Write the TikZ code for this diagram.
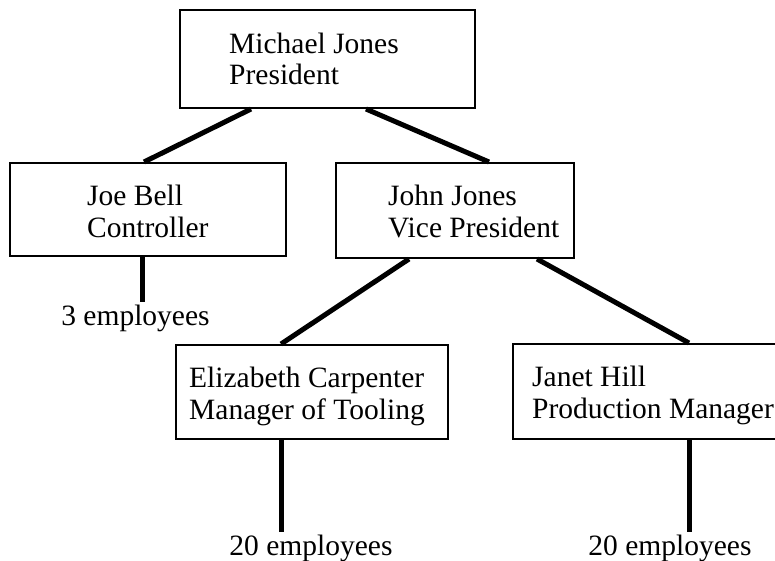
\documentclass[tikz,border=0pt]{standalone}
\usepackage{fontspec}
\setmainfont{Liberation Serif}
\begin{document}
\begin{tikzpicture}[x=1pt,y=-1pt,
  box/.style={draw=black,line width=2pt,rectangle,inner sep=0pt,fill=none},
  txt/.style={align=left,anchor=base west,inner sep=0pt,font=\fontsize{29.5}{31.5}\selectfont},
  emp/.style={anchor=base,inner sep=2.5pt,font=\fontsize{29.5}{31.5}\selectfont},
  conn/.style={draw=black,line width=5pt}]
\useasboundingbox (0,0) rectangle (775,561);
% boxes
\node[box,minimum width=295pt,minimum height=98pt] (pres) at (327.5,59) {};
\node[box,minimum width=276pt,minimum height=93pt] (joe) at (148,209.5) {};
\node[box,minimum width=238pt,minimum height=95pt] (john) at (455,210.5) {};
\node[box,minimum width=272pt,minimum height=94pt] (eliz) at (312,392) {};
\node[box,minimum width=297pt,minimum height=95pt] (janet) at (661.5,391.5) {};
% texts (anchor at baseline of last line)
\node[txt] (presT) at (229,85) {Michael Jones\\President};
\node[txt] (joeT) at (87,237) {Joe Bell\\Controller};
\node[txt] (johnT) at (388,237) {John Jones\\Vice President};
\node[txt] (elizT) at (189,419) {Elizabeth Carpenter\\Manager of Tooling};
\node[txt] (janetT) at (532,418) {Janet Hill\\Production Manager};
% employee labels
\node[emp] (e3) at (135.5,325) {3 employees};
\node[emp] (e20a) at (311,555) {20 employees};
\node[emp] (e20b) at (670,555) {20 employees};
% connectors
\draw[conn] ([xshift=72pt]pres.south west) -- ([xshift=135pt]joe.north west);
\draw[conn] ([xshift=187pt]pres.south west) -- ([xshift=154pt]john.north west);
\draw[conn] ([xshift=74pt]john.south west) -- ([xshift=106pt]eliz.north west);
\draw[conn] ([xshift=202pt]john.south west) -- ([xshift=177pt]janet.north west);
\coordinate (j1) at ([xshift=133pt]joe.south west);
\coordinate (j2) at ([xshift=106pt]eliz.south west);
\coordinate (j3) at ([xshift=177pt]janet.south west);
\draw[conn] (j1) -- (j1 |- e3.north);
\draw[conn] (j2) -- (j2 |- e20a.north);
\draw[conn] (j3) -- (j3 |- e20b.north);
\end{tikzpicture}
\end{document}
